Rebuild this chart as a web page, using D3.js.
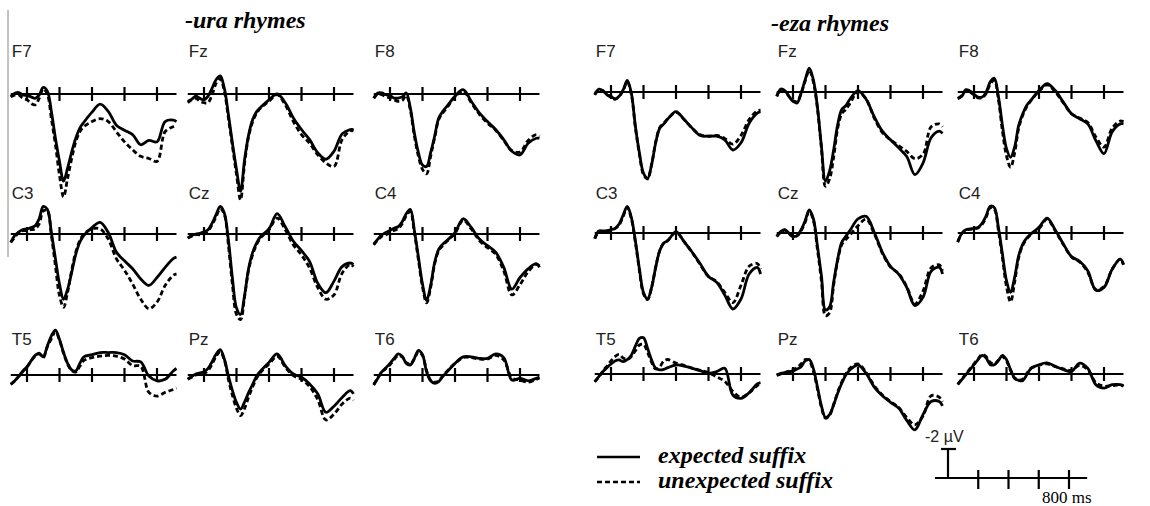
<!DOCTYPE html>
<html lang="en">
<head>
<meta charset="utf-8">
<title>ERP waveforms - ura / eza rhymes</title>
<style>
  body { margin: 0; background: #fff; }
  svg { display: block; }
</style>
</head>
<body>
<div id="chart"></div>
<script src="https://cdnjs.cloudflare.com/ajax/libs/d3/7.8.5/d3.min.js"></script>
<script>
// sample times (ms) shared by every waveform
var times = [-100,-75,-50,-25,0,25,50,75,100,125,150,175,200,225,250,275,300,325,350,400,450,500,550,600,650,700,750,800,850,900,920];
var tickTimes = [0,200,400,600,800];
var electrodes = [["F7","Fz","F8"],["C3","Cz","C4"],["T5","Pz","T6"]];
var groups = ["ura","eza"];
var groupTitles = ["-ura rhymes","-eza rhymes"];
var legendLabels = ["expected suffix","unexpected suffix"];

// amplitudes in microvolts (negative plotted up)
var ura_F7_exp   = [0.18,-0.05,-0.1,0.07,0.1,0.2,0.3,0.07,-0.45,-0.2,1.2,3.05,4.65,6.0,5.1,4.0,3.05,2.35,1.95,1.25,0.7,1.2,2.15,2.5,2.8,3.5,3.2,3.3,1.9,1.8,1.9];
var ura_F7_unexp = [0.2,0.07,0.07,0.3,0.4,0.65,0.75,0.3,-0.35,0,1.7,3.5,5.6,7.1,5.8,4.45,3.3,2.6,2.25,1.9,1.7,1.9,2.6,3.3,3.85,4.3,4.45,4.65,2.6,2.25,2.15];
var ura_Fz_exp   = [0.5,0.35,0.15,0.3,0.4,0.15,-0.4,-1.0,-1.25,-0.4,1.4,3.4,5.2,6.7,4.5,2.8,1.75,1.2,0.9,0.4,0,0.6,1.65,2.45,3.15,4.05,4.5,3.95,2.75,2.45,2.45];
var ura_Fz_unexp = [0.6,0.4,0.3,0.5,0.6,0.6,0.05,-0.75,-1.05,-0.2,1.65,3.6,5.55,7.3,4.75,2.9,1.9,1.3,0.95,0.5,0.05,0.75,1.9,2.8,3.4,4.2,4.75,5.0,3.15,2.55,2.55];
var ura_F8_exp   = [0.28,-0.07,-0.07,0.05,0.1,0.28,0.28,0.2,-0.07,0.95,2.7,4.05,4.9,5.0,4.05,2.9,1.65,1.2,0.85,0.15,-0.3,0.5,1.3,1.9,2.45,3.15,3.95,4.2,3.4,3.05,3.05];
var ura_F8_unexp = [0.3,0,0.05,0.2,0.25,0.4,0.5,0.45,0.1,1.1,2.9,4.3,5.2,5.5,4.3,3.0,1.75,1.3,0.95,0.2,-0.2,0.6,1.4,2.0,2.5,3.2,3.9,4.0,3.2,2.8,2.9];
var ura_C3_exp   = [0.57,0.1,-0.15,-0.3,-0.35,-0.45,-0.57,-1.05,-1.9,-1.7,-0.1,1.7,3.45,4.5,3.8,2.65,1.4,0.57,0.1,-0.45,-0.8,-0.1,1.25,1.85,2.4,3.1,3.55,3.0,2.3,1.7,1.6];
var ura_C3_unexp = [0.57,0.23,-0.1,-0.23,-0.23,-0.3,-0.35,-0.7,-1.6,-1.6,0.1,2.2,4.25,5.05,4.0,2.5,1.25,0.45,0,-0.35,-0.35,0.35,1.7,2.5,3.45,4.5,5.15,4.7,3.55,2.85,2.75];
var ura_Cz_exp   = [0.28,0.1,0,-0.05,-0.15,-0.3,-0.75,-1.35,-1.9,-1.45,0.4,3.05,5.1,5.55,4.2,2.35,1.25,0.6,0.15,-0.35,-1.4,-0.5,0.5,1.15,1.9,3.4,4.05,3.25,2.25,2.0,2.1];
var ura_Cz_unexp = [0.28,0.15,0.05,0.05,0,-0.2,-0.65,-1.2,-1.75,-1.35,0.75,3.5,5.55,5.9,4.3,2.45,1.4,0.7,0.25,-0.3,-1.1,-0.3,0.75,1.45,2.35,3.7,4.5,4.2,2.7,2.1,2.25];
var ura_C4_exp   = [0.7,0.35,0.05,-0.1,-0.25,-0.4,-0.5,-0.85,-1.4,-1.7,-0.25,1.6,3.45,4.6,3.55,1.95,1.05,0.7,0.45,-0.1,-1.05,-0.45,0.35,0.8,1.25,2.3,3.8,3.0,2.4,2.05,2.3];
var ura_C4_unexp = [0.75,0.4,0.15,0.05,-0.1,-0.25,-0.35,-0.7,-1.25,-1.55,-0.1,1.8,3.65,4.75,3.7,2.05,1.15,0.8,0.5,-0.05,-0.95,-0.35,0.45,0.95,1.4,2.55,4.2,3.5,2.6,2.1,2.2];
var ura_T5_exp   = [0.65,0.4,0.07,-0.28,-0.57,-0.97,-1.35,-1.5,-1.25,-2.0,-2.7,-3.1,-2.45,-1.55,-0.8,-0.35,-0.28,-0.8,-1.25,-1.4,-1.55,-1.55,-1.55,-1.4,-0.97,-0.9,0.07,0.4,0.3,-0.28,-0.45];
var ura_T5_unexp = [0.65,0.4,0.1,-0.25,-0.55,-0.95,-1.3,-1.45,-1.2,-1.95,-2.5,-3.0,-2.4,-1.5,-0.75,-0.3,-0.2,-0.6,-1.0,-1.2,-1.3,-1.35,-1.3,-1.1,-0.65,-0.6,1.2,1.45,1.2,1.0,0.9];
var ura_Pz_exp   = [0.28,0.1,-0.07,-0.14,-0.23,-0.46,-0.92,-1.45,-1.75,-1.1,0.05,1.08,1.9,2.35,1.85,1.2,0.62,0.05,-0.3,-0.87,-1.45,-0.64,-0.07,0.16,0.62,1.3,2.57,2.15,1.55,1.08,1.3];
var ura_Pz_unexp = [0.3,0.15,0,-0.05,-0.1,-0.3,-0.75,-1.3,-1.6,-1.05,0.3,1.4,2.3,2.8,2.3,1.5,0.8,0.2,-0.2,-0.75,-1.3,-0.55,0.05,0.3,0.8,1.7,3.1,2.7,2.0,1.6,1.75];
var ura_T6_exp   = [0.7,0.23,-0.23,-0.5,-0.8,-1.15,-1.45,-1.3,-0.8,-0.7,-1.15,-1.7,-1.4,-0.23,0.4,0.57,0.45,0.1,-0.2,-0.8,-1.25,-1.25,-1.15,-1.15,-1.45,-1.2,0.35,0.23,0.4,0.23,0.15];
var ura_T6_unexp = [0.65,0.2,-0.2,-0.45,-0.7,-1.05,-1.35,-1.25,-0.85,-0.75,-1.1,-1.6,-1.35,-0.3,0.35,0.5,0.4,0.05,-0.25,-0.8,-1.2,-1.2,-1.1,-1.1,-1.35,-1.05,0.2,0.35,0.5,0.3,0.2];

var eza_F7_exp   = [0.18,-0.2,-0.1,0.18,0.3,0.48,0.3,-0.15,-0.8,0.07,2.35,4.2,5.6,5.95,5.0,3.5,2.5,2.2,1.85,1.35,1.9,2.5,3.0,3.05,3.05,3.3,4.0,3.5,2.15,1.45,1.35];
var eza_F7_unexp = [0.2,-0.15,-0.05,0.2,0.35,0.5,0.3,-0.1,-0.7,0.15,2.45,4.3,5.7,6.0,5.0,3.45,2.45,2.15,1.85,1.4,1.9,2.5,2.95,3.05,3.0,3.2,3.6,3.0,1.9,1.3,1.25];
var eza_Fz_exp   = [0.3,-0.2,-0.1,0.3,0.65,0.75,0.07,-0.85,-1.65,-0.85,1.0,3.75,6.15,5.45,4.0,2.25,1.2,0.95,0.5,-0.1,0.5,1.7,2.7,3.3,3.85,4.45,5.7,4.9,3.15,2.7,2.85];
var eza_Fz_unexp = [0.3,-0.15,-0.05,0.3,0.6,0.65,0.1,-0.75,-1.5,-0.7,1.1,3.9,6.5,6.0,4.5,2.5,1.5,1.2,0.8,0.0,0.5,1.8,2.8,3.3,3.7,4.1,4.6,4.3,2.4,2.2,2.4];
var eza_F8_exp   = [0.46,0.3,-0.16,-0.07,0.16,0.35,0.35,0,-0.7,-0.95,0.3,2.3,3.9,4.5,3.8,2.3,1.5,0.92,0.57,-0.1,-0.57,-0.1,0.7,1.5,1.85,2.2,3.35,4.25,2.75,2.2,2.2];
var eza_F8_unexp = [0.45,0.25,-0.1,0,0.2,0.4,0.4,0.1,-0.55,-0.8,0.5,2.7,4.4,5.2,4.2,2.5,1.6,1.0,0.6,-0.05,-0.5,0,0.75,1.5,1.8,2.1,3.1,3.8,2.5,2.0,2.05];
var eza_C3_exp   = [0.37,-0.14,-0.14,-0.16,-0.23,-0.32,-0.62,-1.24,-1.84,-1.08,0.53,2.48,4.1,4.55,3.75,2.37,1.22,0.69,0.53,-0.1,0.6,1.33,2.14,3.0,3.4,4.28,5.24,4.55,2.83,2.37,2.83];
var eza_C3_unexp = [0.4,-0.1,-0.1,-0.1,-0.2,-0.3,-0.55,-1.15,-1.75,-1.0,0.65,2.6,4.2,4.6,3.75,2.35,1.2,0.7,0.5,-0.05,0.6,1.35,2.2,3.0,3.35,4.1,4.8,3.6,2.3,2.1,2.5];
var eza_Cz_exp   = [0.23,-0.11,-0.23,0,0.23,0.18,-0.23,-0.85,-1.6,-1.0,0.87,2.94,5.3,5.1,3.4,1.8,0.64,0.23,-0.16,-0.97,-1.15,-0.05,1.33,2.3,2.83,3.75,5.0,4.44,2.64,2.37,2.83];
var eza_Cz_unexp = [0.25,-0.05,-0.2,0.05,0.25,0.2,-0.15,-0.75,-1.5,-0.9,1.1,3.3,5.7,5.5,3.6,1.9,0.8,0.45,0.15,-0.5,-0.95,0.05,1.4,2.35,2.8,3.7,4.9,4.0,2.4,2.2,2.6];
var eza_C4_exp   = [0.64,0.02,-0.23,-0.28,-0.32,-0.39,-0.67,-1.2,-1.85,-1.75,-0.39,1.45,3.29,4.09,3.06,1.56,0.76,0.34,0.07,-0.39,-1.03,-0.21,0.76,1.63,1.95,2.6,3.95,3.75,2.5,1.8,2.15];
var eza_C4_unexp = [0.6,0.05,-0.2,-0.25,-0.3,-0.35,-0.6,-1.1,-1.75,-1.65,-0.2,1.7,3.7,4.75,3.4,1.7,0.85,0.4,0.1,-0.3,-0.95,-0.15,0.8,1.65,2.0,2.7,3.9,3.7,2.5,1.8,2.2];
var eza_T5_exp   = [0.53,0.18,-0.16,-0.44,-0.69,-0.9,-0.97,-0.85,-1.0,-1.3,-1.93,-2.46,-2.5,-1.77,-0.97,-0.39,-0.28,-0.32,-0.44,-0.62,-0.55,-0.39,-0.23,-0.05,-0.16,-0.4,1.45,1.68,1.29,0.69,0.6];
var eza_T5_unexp = [0.55,0.2,-0.2,-0.55,-0.9,-1.2,-1.35,-1.1,-1.0,-1.2,-1.6,-2.0,-2.05,-1.5,-0.8,-0.35,-0.5,-0.9,-1.0,-0.75,-0.6,-0.4,-0.25,-0.1,0.2,0.5,1.2,1.6,1.3,0.8,0.65];
var eza_Pz_exp   = [0.07,-0.05,-0.1,-0.16,-0.2,-0.34,-0.5,-0.9,-1.0,-0.39,0.87,2.2,3.0,2.8,2.14,1.33,0.64,0.07,-0.28,-0.62,-0.05,0.9,1.5,1.95,2.35,3.2,3.85,2.8,1.9,1.9,2.2];
var eza_Pz_unexp = [0.1,0,-0.1,-0.2,-0.3,-0.45,-0.7,-1.0,-0.9,-0.2,1.0,2.3,3.05,2.85,2.1,1.25,0.55,0.0,-0.4,-0.7,-0.1,0.8,1.45,1.9,2.3,3.0,3.5,2.9,1.5,1.6,1.9];
var eza_T6_exp   = [0.74,0.39,0.05,-0.3,-0.64,-0.99,-1.29,-1.1,-0.64,-0.64,-0.92,-1.29,-0.99,-0.3,0.28,0.44,0.46,0.05,-0.37,-0.64,-0.76,-0.53,-0.3,-0.18,-0.75,-0.4,0.74,0.97,0.74,0.74,0.85];
var eza_T6_unexp = [0.7,0.35,0.0,-0.35,-0.7,-1.05,-1.35,-1.2,-0.8,-0.7,-0.95,-1.2,-0.9,-0.25,0.3,0.4,0.35,-0.05,-0.4,-0.6,-0.7,-0.5,-0.35,-0.25,-0.6,-0.3,0.6,0.85,0.8,0.75,0.8];

var waves = {
  ura_F7: [ura_F7_exp, ura_F7_unexp], ura_Fz: [ura_Fz_exp, ura_Fz_unexp], ura_F8: [ura_F8_exp, ura_F8_unexp],
  ura_C3: [ura_C3_exp, ura_C3_unexp], ura_Cz: [ura_Cz_exp, ura_Cz_unexp], ura_C4: [ura_C4_exp, ura_C4_unexp],
  ura_T5: [ura_T5_exp, ura_T5_unexp], ura_Pz: [ura_Pz_exp, ura_Pz_unexp], ura_T6: [ura_T6_exp, ura_T6_unexp],
  eza_F7: [eza_F7_exp, eza_F7_unexp], eza_Fz: [eza_Fz_exp, eza_Fz_unexp], eza_F8: [eza_F8_exp, eza_F8_unexp],
  eza_C3: [eza_C3_exp, eza_C3_unexp], eza_Cz: [eza_Cz_exp, eza_Cz_unexp], eza_C4: [eza_C4_exp, eza_C4_unexp],
  eza_T5: [eza_T5_exp, eza_T5_unexp], eza_Pz: [eza_Pz_exp, eza_Pz_unexp], eza_T6: [eza_T6_exp, eza_T6_unexp]
};

// layout
var width = 1150, height = 506;
var colZero = [[27, 204, 390], [611, 793, 974]];   // x of 0 ms per column
var rowBase = [[94, 234, 375], [92, 233, 374]];    // y of 0 uV per row
var msWidth = 130;     // px for 800 ms
var pxPerUv = 14.5;
var dashes = [null, "5,3"];
var sans = "'Liberation Sans', Arial, sans-serif";
var serif = "'Liberation Serif', 'Times New Roman', serif";

var svg = d3.select("#chart").append("svg")
    .attr("width", width)
    .attr("height", height);

// thin grey rule at the far left
svg.append("line")
    .attr("x1", 8).attr("x2", 8).attr("y1", 10).attr("y2", 257)
    .attr("stroke", "#888").attr("stroke-width", 1);

var titlePos = [[185, 28], [771, 31]];
svg.selectAll("text.ttl").data(groupTitles).enter()
    .append("text").attr("class", "ttl")
    .attr("x", function(d, i){ return titlePos[i][0]; })
    .attr("y", function(d, i){ return titlePos[i][1]; })
    .attr("font-family", serif).attr("font-weight", "bold").attr("font-style", "italic")
    .attr("font-size", 24)
    .text(function(d){ return d; });

var labelBase = [57, 199, 345];

groups.forEach(function(g, gi){
  electrodes.forEach(function(row, r){
    row.forEach(function(name, c){
      var x = d3.scaleLinear().domain([0, 800]).range([colZero[gi][c], colZero[gi][c] + msWidth]);
      var y = d3.scaleLinear().domain([0, 1]).range([rowBase[gi][r], rowBase[gi][r] + pxPerUv]);
      var p = svg.append("g");

      p.append("text")
          .attr("x", x(-100) + 1)
          .attr("y", labelBase[r])
          .attr("font-family", sans).attr("font-size", 17).attr("fill", "#222")
          .text(name);

      p.append("line")
          .attr("x1", x(-100)).attr("x2", x(920))
          .attr("y1", y(0)).attr("y2", y(0))
          .attr("stroke", "#000").attr("stroke-width", 2.2);

      p.selectAll("line.tk").data(tickTimes).enter()
          .append("line").attr("class", "tk")
          .attr("x1", function(d){ return x(d); })
          .attr("x2", function(d){ return x(d); })
          .attr("y1", y(0) - 7).attr("y2", y(0) + 7)
          .attr("stroke", "#000").attr("stroke-width", 2.2);

      var line = d3.line()
          .x(function(d, i){ return x(times[i]); })
          .y(function(d){ return y(d); })
          .curve(d3.curveCatmullRom.alpha(0.5));

      // dashed first so the solid sits on top
      [1, 0].forEach(function(k){
        p.append("path")
            .attr("d", line(waves[g + "_" + name][k]))
            .attr("fill", "none")
            .attr("stroke", "#000")
            .attr("stroke-width", 2.8)
            .attr("stroke-linejoin", "round")
            .attr("stroke-dasharray", dashes[k]);
      });
    });
  });
});

// legend
var legY = [457, 482];
var leg = svg.append("g");
leg.selectAll("line").data(legendLabels).enter()
    .append("line")
    .attr("x1", 597).attr("x2", 640)
    .attr("y1", function(d, i){ return legY[i]; })
    .attr("y2", function(d, i){ return legY[i]; })
    .attr("stroke", "#000").attr("stroke-width", 2.4)
    .attr("stroke-dasharray", function(d, i){ return dashes[i]; });
leg.selectAll("text").data(legendLabels).enter()
    .append("text")
    .attr("x", 658)
    .attr("y", function(d, i){ return legY[i] + 6; })
    .attr("font-family", serif).attr("font-weight", "bold").attr("font-style", "italic")
    .attr("font-size", 24)
    .text(function(d){ return d; });

// calibration bar
var sx = d3.scaleLinear().domain([0, 800]).range([948, 1069]);
var sy = d3.scaleLinear().domain([0, -2]).range([478, 449]);
var cal = svg.append("g");
cal.append("line")
    .attr("x1", sx(-86)).attr("x2", sx(920)).attr("y1", sy(0)).attr("y2", sy(0))
    .attr("stroke", "#000").attr("stroke-width", 2.2);
cal.append("line")
    .attr("x1", sx(0)).attr("x2", sx(0)).attr("y1", sy(0)).attr("y2", sy(-2))
    .attr("stroke", "#000").attr("stroke-width", 2.2);
cal.append("line")
    .attr("x1", sx(0) - 7).attr("x2", sx(0) + 8).attr("y1", sy(-2)).attr("y2", sy(-2))
    .attr("stroke", "#000").attr("stroke-width", 2.2);
cal.selectAll("line.tk").data(tickTimes.slice(1)).enter()
    .append("line").attr("class", "tk")
    .attr("x1", function(d){ return sx(d); })
    .attr("x2", function(d){ return sx(d); })
    .attr("y1", sy(0) - 8).attr("y2", sy(0) + 11)
    .attr("stroke", "#000").attr("stroke-width", 2.2);
cal.append("text")
    .attr("x", 925).attr("y", 442)
    .attr("font-family", sans).attr("font-size", 16).attr("fill", "#222")
    .text("-2 \u00b5V");
cal.append("text")
    .attr("x", 1042).attr("y", 503)
    .attr("font-family", serif).attr("font-size", 17)
    .text("800 ms");
</script>
</body>
</html>
